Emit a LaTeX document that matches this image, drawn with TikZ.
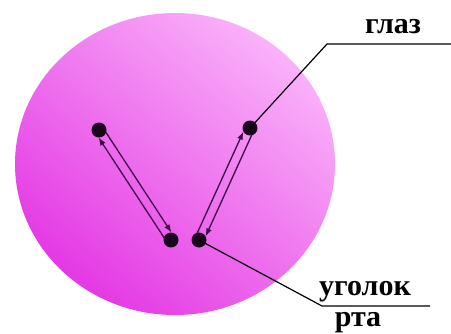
\documentclass[tikz,border=0pt]{standalone}
\usepackage{fontspec}
\setmainfont{Liberation Serif}
\usepackage{tikz}
\usetikzlibrary{arrows.meta,positioning,calc}
\definecolor{facelight}{RGB}{250,178,250}
\definecolor{facedark}{RGB}{228,56,228}
\definecolor{dotdark}{RGB}{28,6,30}
\definecolor{linepurple}{RGB}{62,10,72}

\begin{document}
\begin{tikzpicture}[x=1pt,y=-1pt,
    mark dot/.style={circle, fill=dotdark, inner sep=0pt, minimum size=15pt},
    pair line/.style={draw=linepurple, line width=1.3pt, -{Latex[length=8pt,width=6pt]},
                      shorten <=5pt, shorten >=6pt},
    leader/.style={draw=black, line width=1.2pt},
    tag/.style={font=\fontsize{30}{32}\selectfont\bfseries, inner sep=0pt, anchor=base}]
    \useasboundingbox (0,0) rectangle (451,333);
    % face
    \shade[shading=axis, top color=facelight, bottom color=facedark, shading angle=-40]
      (175,164) ellipse [x radius=160, y radius=151];
    % points
    \node[mark dot] (el) at (99,130) {};
    \node[mark dot] (er) at (250,128) {};
    \node[mark dot] (ml) at (171,240) {};
    \node[mark dot] (mr) at (199,240) {};
    % distances
    \draw[pair line] ($(el)!4.5pt!90:(ml)$) -- ($(ml)!4.5pt!-90:(el)$);
    \draw[pair line] ($(ml)!4.5pt!90:(el)$) -- ($(el)!4.5pt!-90:(ml)$);
    \draw[pair line] ($(er)!4.5pt!90:(mr)$) -- ($(mr)!4.5pt!-90:(er)$);
    \draw[pair line] ($(mr)!4.5pt!90:(er)$) -- ($(er)!4.5pt!-90:(mr)$);
    % labels
    \coordinate (ek) at (327,44);
    \coordinate (ee) at (451,44);
    \coordinate (mk) at (322,306);
    \coordinate (me) at (430,306);
    \draw[leader] (er.center) -- (ek) -- (ee);
    \draw[leader] (mr.center) -- (mk) -- (me);
    \node[tag] (eye) at (393,33) {глаз};
    \node[tag] (mouth) at (365,295) {уголок};
    \node[tag] (mouth2) at (358,326) {рта};
\end{tikzpicture}
\end{document}
